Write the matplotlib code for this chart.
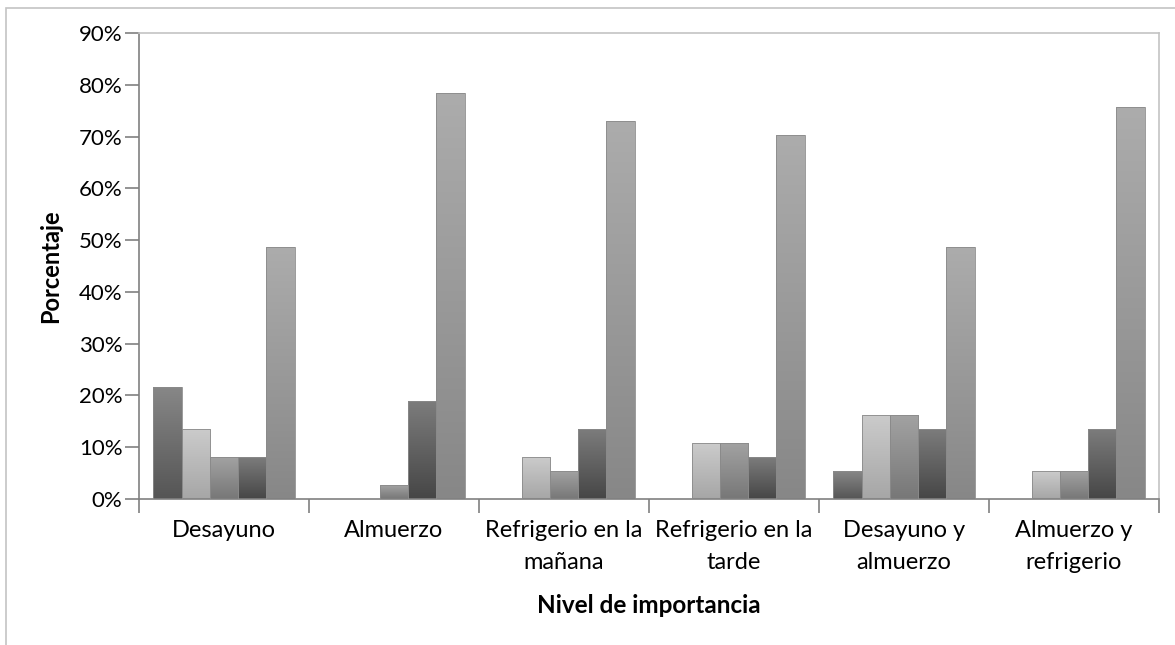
import numpy as np
import matplotlib.pyplot as plt
from matplotlib.colors import LinearSegmentedColormap
from matplotlib.patches import Rectangle
from matplotlib.ticker import FuncFormatter

# categories and values (percent of 37 answers per meal)
categories = ["Desayuno", "Almuerzo", "Refrigerio en la\nmañana",
              "Refrigerio en la\ntarde", "Desayuno y\nalmuerzo", "Almuerzo y\nrefrigerio"]
serie1 = [21.6, 0.0, 0.0, 0.0, 5.4, 0.0]
serie2 = [13.5, 0.0, 8.1, 10.8, 16.2, 5.4]
serie3 = [8.1, 2.7, 5.4, 10.8, 16.2, 5.4]
serie4 = [8.1, 18.9, 13.5, 8.1, 13.5, 13.5]
serie5 = [48.6, 78.4, 73.0, 70.3, 48.6, 75.7]
series = [serie1, serie2, serie3, serie4, serie5]

# top colour / bottom colour of each series gradient
gradients = [("#878787", "#555555"),
             ("#cbcbcb", "#a6a6a6"),
             ("#a2a2a2", "#777777"),
             ("#7c7c7c", "#464646"),
             ("#acacac", "#878787")]

plt.rcParams['font.family'] = ['Lato', 'DejaVu Sans']

fig = plt.figure(figsize=(11.75, 6.45), dpi=100)
ax = fig.add_axes([139 / 1175, 1 - 499 / 645, 1020 / 1175, 466 / 645])

# outer chart frame (clipped by the picture on right and bottom)
fig.patches.append(Rectangle((6 / 1175, -0.2), 1.5, 1.2 - 8 / 645,
                             transform=fig.transFigure, fill=False,
                             edgecolor="#c4c4c4", linewidth=1.2, zorder=0))

x = np.arange(len(categories))
width = 0.166
offsets = (np.arange(5) - 2) * width

grad = np.linspace(1, 0, 256).reshape(-1, 1)
for vals, off, (ctop, cbot) in zip(series, offsets, gradients):
    cmap = LinearSegmentedColormap.from_list("g", [cbot, ctop])
    bars = ax.bar(x + off, vals, width, facecolor="none",
                  edgecolor="#8a8a8a", linewidth=0.6, zorder=3)
    for b in bars:
        if b.get_height() <= 0:
            continue
        x0, y0 = b.get_x(), b.get_y()
        im = ax.imshow(grad, cmap=cmap, aspect="auto", vmin=0, vmax=1,
                       extent=(x0, x0 + b.get_width(), y0, y0 + b.get_height()),
                       zorder=2, interpolation="bilinear")
        im.set_clip_path(b)

ax.set_xlim(-0.5, len(categories) - 0.5)
ax.set_ylim(0, 90)
ax.set_yticks(np.arange(0, 91, 10))
ax.yaxis.set_major_formatter(FuncFormatter(lambda v, p: f"{v:.0f}%"))

# category labels centred, ticks on the boundaries
ax.set_xticks(np.arange(len(categories) + 1) - 0.5)
ax.set_xticklabels([])
ax.set_xticks(x, minor=True)
ax.set_xticklabels(categories, minor=True, fontsize=17, linespacing=1.65)
ax.tick_params(axis="x", which="minor", length=0, pad=15)
ax.tick_params(axis="x", which="major", length=10, width=1.2, color="#808080")
ax.tick_params(axis="y", length=10, width=1.2, color="#808080",
               labelsize=16, pad=2)

for side in ["top", "right"]:
    ax.spines[side].set_color("#c4c4c4")
    ax.spines[side].set_linewidth(1.2)
for side in ["left", "bottom"]:
    ax.spines[side].set_color("#808080")
    ax.spines[side].set_linewidth(1.2)

ax.set_ylabel("Porcentaje", fontsize=17, fontweight="bold", labelpad=12)
ax.set_xlabel("Nivel de importancia", fontsize=17.5, fontweight="bold", labelpad=15)

fig.savefig("out.png", dpi=100)
